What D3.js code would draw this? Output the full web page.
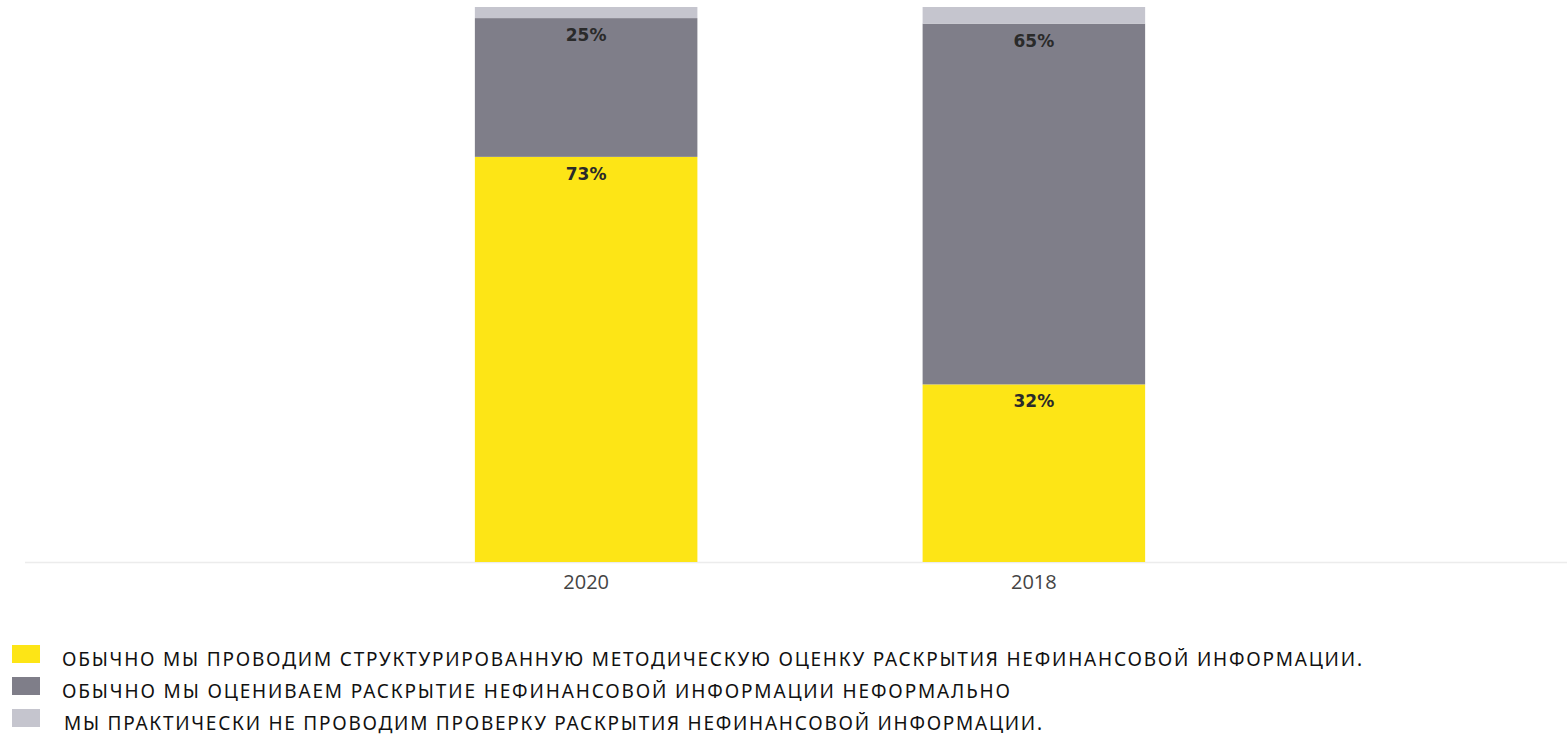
<!DOCTYPE html>
<html>
<head>
<meta charset="utf-8">
<script src="https://cdn.jsdelivr.net/npm/d3@7"></script>
<style>
  body { margin: 0; background: #fff; }
  svg { display: block; }
</style>
</head>
<body>
<svg width="1567" height="735"></svg>
<script>
// categories and series (percent)
const years = ["2020", "2018"];
const structured = [73, 32];
const informal = [25, 65];
const none = [2, 3];

const seriesNames = [
    "ОБЫЧНО МЫ ПРОВОДИМ СТРУКТУРИРОВАННУЮ МЕТОДИЧЕСКУЮ ОЦЕНКУ РАСКРЫТИЯ НЕФИНАНСОВОЙ ИНФОРМАЦИИ.",
    "ОБЫЧНО МЫ ОЦЕНИВАЕМ РАСКРЫТИЕ НЕФИНАНСОВОЙ ИНФОРМАЦИИ НЕФОРМАЛЬНО",
    "МЫ ПРАКТИЧЕСКИ НЕ ПРОВОДИМ ПРОВЕРКУ РАСКРЫТИЯ НЕФИНАНСОВОЙ ИНФОРМАЦИИ."
];
const colors = ["#FDE516", "#7F7E89", "#C5C5CE"];

const svg = d3.select("svg");

// stacked data
const rows = years.map((y, i) => ({ year: y, s0: structured[i], s1: informal[i], s2: none[i] }));
const stack = d3.stack().keys(["s0", "s1", "s2"]);
const layers = stack(rows);

const x = d3.scaleBand()
    .domain(years)
    .range([251, 1369])
    .paddingInner(0.503)
    .paddingOuter(0.5);

const y = d3.scaleLinear()
    .domain([0, 100])
    .range([562, 7]);

// baseline
svg.append("line")
    .attr("x1", 25).attr("x2", 1567)
    .attr("y1", y(0) + 0.5).attr("y2", y(0) + 0.5)
    .attr("stroke", "#ececec")
    .attr("stroke-width", 1.5);

// bars
const layer = svg.selectAll(".layer")
    .data(layers)
    .enter().append("g")
    .attr("class", "layer")
    .attr("fill", (d, i) => colors[i]);

layer.selectAll("rect")
    .data(d => d)
    .enter().append("rect")
    .attr("x", d => x(d.data.year))
    .attr("width", x.bandwidth())
    .attr("y", d => y(d[1]))
    .attr("height", d => y(d[0]) - y(d[1]));

// value labels (only first two series)
layers.slice(0, 2).forEach(l => {
    svg.selectAll(null)
        .data(l)
        .enter().append("text")
        .attr("x", d => x(d.data.year) + x.bandwidth() / 2)
        .attr("y", d => y(d[1]) + 23)
        .attr("text-anchor", "middle")
        .attr("font-family", "DejaVu Sans, sans-serif")
        .attr("font-size", 17)
        .attr("font-weight", "bold")
        .attr("fill", "#2a2a2a")
        .text(d => (d[1] - d[0]) + "%");
});

// x axis labels
const xAxis = svg.append("g")
    .attr("transform", `translate(0, ${y(0)})`)
    .call(d3.axisBottom(x).tickSize(0).tickPadding(13));
xAxis.select(".domain").remove();
xAxis.selectAll("text")
    .attr("font-family", "Open Sans, sans-serif")
    .attr("font-size", 20)
    .attr("fill", "#444");

// legend
const legendY = [654, 686, 718];
const legendX = [62, 62, 64];
const legendW = [1300, 948, 978];
const legend = svg.selectAll(".legend")
    .data(seriesNames)
    .enter().append("g")
    .attr("class", "legend");

legend.append("rect")
    .attr("x", 12)
    .attr("y", (d, i) => legendY[i] - 9)
    .attr("width", 28)
    .attr("height", 18)
    .attr("fill", (d, i) => colors[i]);

legend.append("text")
    .attr("x", (d, i) => legendX[i])
    .attr("y", (d, i) => legendY[i] + 12)
    .attr("font-family", "Noto Sans, sans-serif")
    .attr("font-size", 19)
    .attr("fill", "#111")
    .attr("textLength", (d, i) => legendW[i])
    .attr("lengthAdjust", "spacing")
    .text(d => d);
</script>
</body>
</html>
